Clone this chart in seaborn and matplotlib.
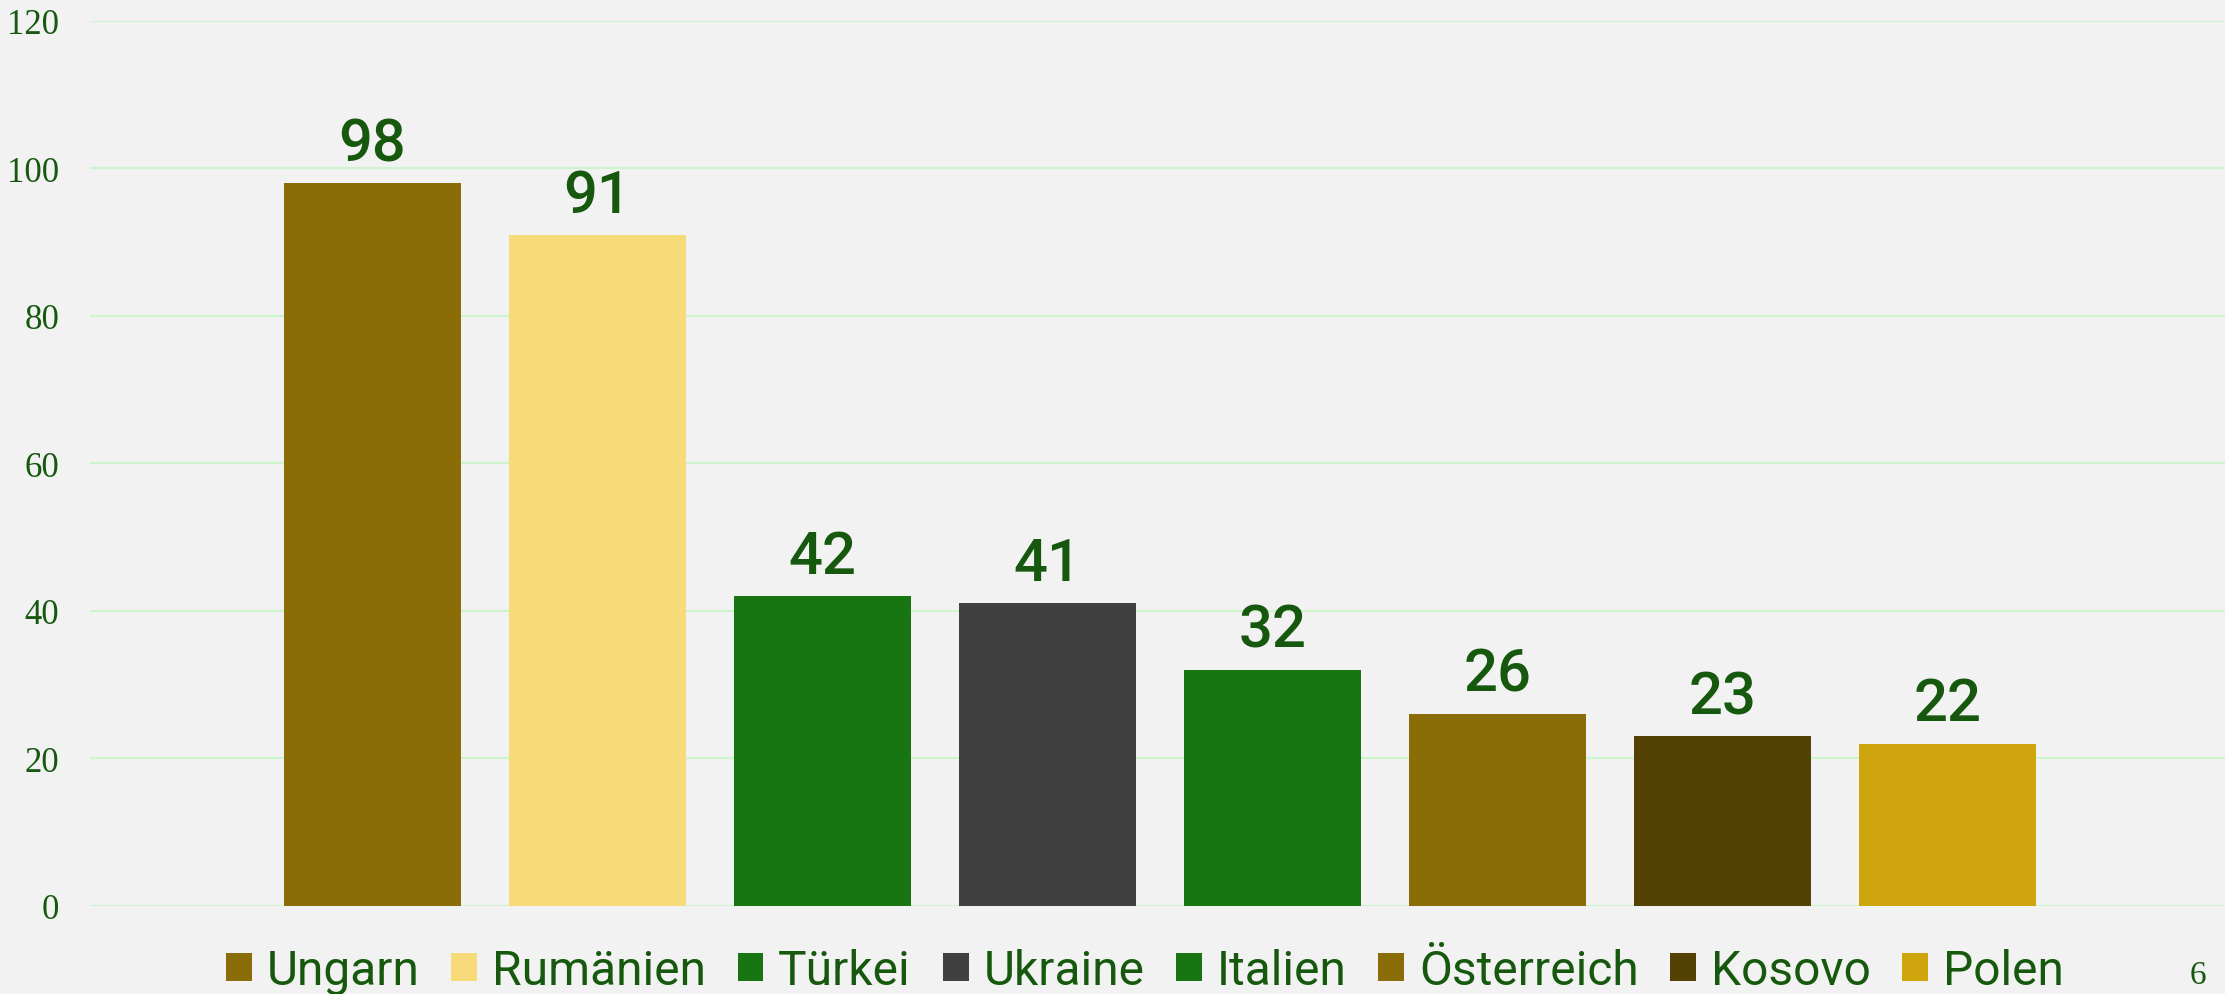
import matplotlib
matplotlib.use("Agg")
import matplotlib.pyplot as plt
from matplotlib.patches import Patch
import seaborn as sns
import pandas as pd

countries = ["Ungarn", "Rumänien", "Türkei", "Ukraine", "Italien", "Österreich", "Kosovo", "Polen"]
values = [98, 91, 42, 41, 32, 26, 23, 22]
colors = ["#8B6D08", "#F6DB78", "#187612", "#404040", "#187612", "#8B6D08", "#544204", "#CFA50D"]
yticks = [0, 20, 40, 60, 80, 100, 120]
page_number = "6"

TEXT = "#16590E"
BG = "#F2F2F2"
GRID = "#CCF5CC"

sns.set_theme(style="white")
plt.rcParams["font.family"] = ["Roboto", "DejaVu Sans"]

df = pd.DataFrame({"country": countries, "value": values})

fig = plt.figure(figsize=(22.25, 9.95), dpi=100, facecolor=BG)
ax = fig.add_axes([90 / 2225, 88.3 / 995, 1 - 90 / 2225, 884.7 / 995])
ax.set_facecolor(BG)

sns.barplot(data=df, x="country", y="value", hue="country", palette=colors,
            width=0.787, saturation=1, legend=False, ax=ax, zorder=3,
            linewidth=0, edgecolor="none")

ax.set_ylim(0, 120)
ax.set_xlim(-1.2556, 8.233)
ax.set_yticks(yticks)
ax.set_yticklabels([str(t) for t in yticks], fontfamily="Liberation Serif",
                   fontsize=25, color=TEXT)
ax.tick_params(axis="y", length=0, pad=22)
ax.set_xticks([])
ax.set_xlabel("")
ax.set_ylabel("")
for s in ax.spines.values():
    s.set_visible(False)
for t in yticks:
    ax.axhline(t, color=GRID, lw=1.5, zorder=1)

for c in ax.containers:
    ax.bar_label(c, fmt="%d", padding=8, fontsize=43, fontweight="medium", color=TEXT)

handles = [Patch(facecolor=col, edgecolor="none", label=lab) for lab, col in zip(countries, colors)]
fig.legend(handles=handles, loc="center", bbox_to_anchor=(1145 / 2225, 1 - 972 / 995),
           ncol=len(countries), frameon=False, fontsize=34.5,
           handlelength=0.54, handleheight=0.54, handletextpad=0.31,
           columnspacing=0.66, labelcolor=TEXT, borderaxespad=0, borderpad=0)

fig.text(2190 / 2225, 0.004, page_number, fontfamily="Liberation Serif", fontsize=24,
         color=TEXT, ha="left", va="bottom")

fig.savefig("out.png", dpi=100, facecolor=BG)
